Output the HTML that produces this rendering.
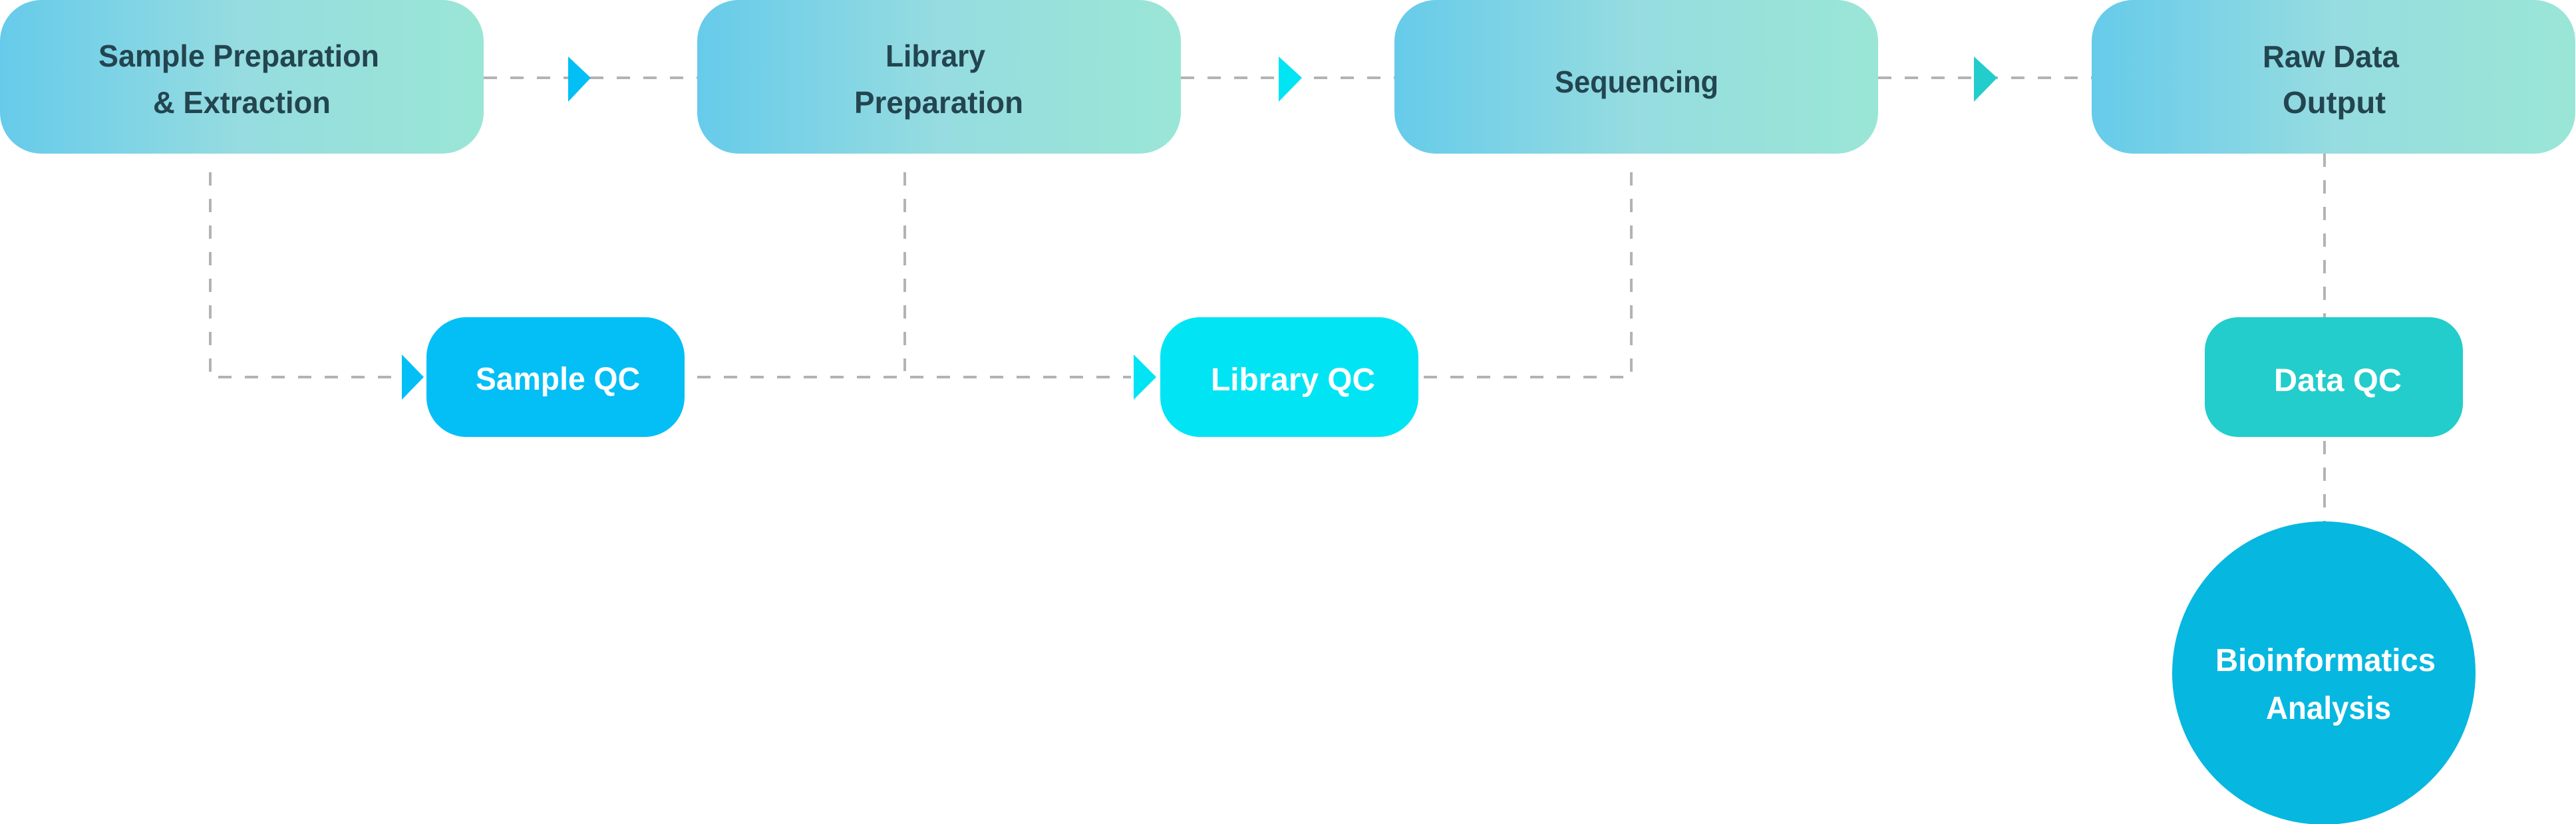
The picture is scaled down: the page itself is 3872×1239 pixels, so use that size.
<!DOCTYPE html>
<html><head><meta charset="utf-8"><style>html,body{margin:0;padding:0;background:#fff}svg{display:block}</style></head>
<body>
<svg width="3872" height="1239" viewBox="0 0 3872 1239" xmlns="http://www.w3.org/2000/svg">
<defs>
<linearGradient id="g" x1="0" x2="1" y1="0" y2="0">
<stop offset="0" stop-color="#66cbea"/><stop offset="0.5" stop-color="#96dce0"/><stop offset="1" stop-color="#9ae6d6"/>
</linearGradient>
</defs>
<g stroke="#b3b3b3" stroke-width="4" stroke-dasharray="20 20" fill="none">
<line x1="727" y1="117" x2="1048" y2="117"/>
<line x1="1775" y1="117" x2="2096" y2="117"/>
<line x1="2823" y1="117" x2="3144" y2="117"/>
<polyline points="316,259 316,567 604,567"/>
<line x1="1360" y1="259" x2="1360" y2="558"/>
<line x1="1048" y1="567" x2="1700" y2="567"/>
<polyline points="2140,567 2452,567 2452,259"/>
<line x1="3494" y1="231" x2="3494" y2="477"/>
<line x1="3494" y1="663" x2="3494" y2="784"/>
</g>
<rect x="0" y="0" width="727" height="231" rx="62" fill="url(#g)"/>
<rect x="1048" y="0" width="727" height="231" rx="62" fill="url(#g)"/>
<rect x="2096" y="0" width="727" height="231" rx="62" fill="url(#g)"/>
<rect x="3144" y="0" width="727" height="231" rx="62" fill="url(#g)"/>
<rect x="641" y="477" width="388" height="180" rx="60" fill="#04bff5"/>
<rect x="1744" y="477" width="388" height="180" rx="60" fill="#00e4f4"/>
<rect x="3314" y="477" width="388" height="180" rx="50" fill="#22cdcc"/>
<circle cx="3493" cy="1012" r="228" fill="#06b7e0"/>
<polygon points="854,85 888,117 854,153" fill="#03bff5"/>
<polygon points="1922,85 1957,117 1922,153" fill="#00e4f4"/>
<polygon points="2967,85 3002,117 2967,153" fill="#22cdcc"/>
<polygon points="604,533 637,567 604,601" fill="#03bff5"/>
<polygon points="1704,533 1738,567 1704,601" fill="#00e4f4"/>
<g font-family="Liberation Sans, sans-serif" font-weight="bold" font-size="46" fill="#234550" lengthAdjust="spacingAndGlyphs">
<text x="148" y="100" textLength="422" lengthAdjust="spacingAndGlyphs">Sample Preparation</text>
<text x="230" y="170" textLength="267" lengthAdjust="spacingAndGlyphs">&amp; Extraction</text>
<text x="1331" y="100" textLength="150" lengthAdjust="spacingAndGlyphs">Library</text>
<text x="1284" y="170" textLength="254" lengthAdjust="spacingAndGlyphs">Preparation</text>
<text x="2337" y="139" textLength="246" lengthAdjust="spacingAndGlyphs">Sequencing</text>
<text x="3401" y="101" textLength="205" lengthAdjust="spacingAndGlyphs">Raw Data</text>
<text x="3431" y="170" textLength="155" lengthAdjust="spacingAndGlyphs">Output</text>
</g>
<g font-family="Liberation Sans, sans-serif" font-weight="bold" font-size="48" fill="#fff">
<text x="715" y="586" textLength="247" lengthAdjust="spacingAndGlyphs">Sample QC</text>
<text x="1820" y="587" textLength="247" lengthAdjust="spacingAndGlyphs">Library QC</text>
<text x="3418" y="588" textLength="192" lengthAdjust="spacingAndGlyphs">Data QC</text>
<text x="3330" y="1009" textLength="331" lengthAdjust="spacingAndGlyphs">Bioinformatics</text>
<text x="3406" y="1081" textLength="188" lengthAdjust="spacingAndGlyphs">Analysis</text>
</g>
</svg>
</body></html>
